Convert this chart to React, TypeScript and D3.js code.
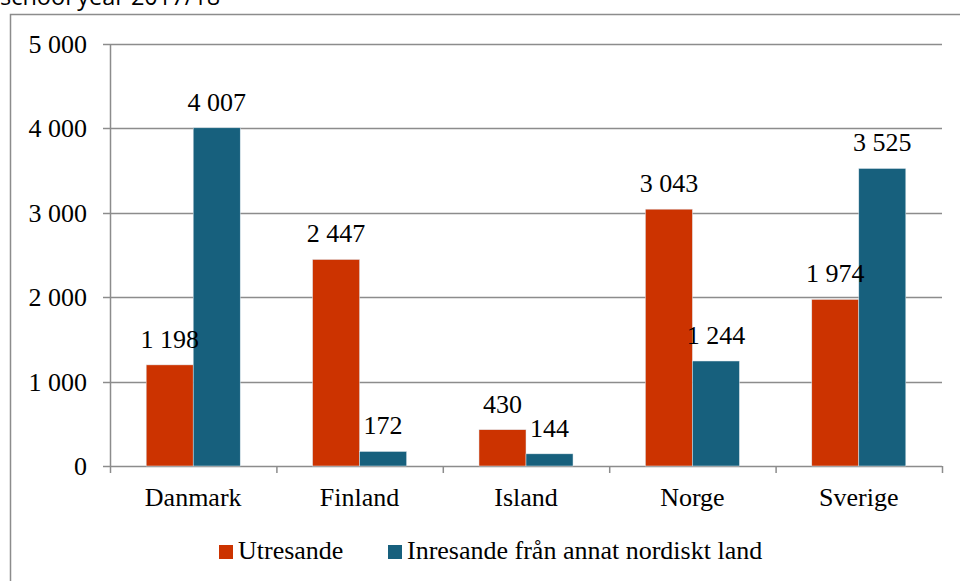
import React from 'react';
import * as d3 from 'd3';

const countries = ['Danmark', 'Finland', 'Island', 'Norge', 'Sverige'];
const seriesNames = ['Utresande', 'Inresande från annat nordiskt land'];
const utresande = [1198, 2447, 430, 3043, 1974];
const inresande = [4007, 172, 144, 1244, 3525];
const yTicks = [0, 1000, 2000, 3000, 4000, 5000];
const colors = ['#CC3300', '#17607D'];

const SERIF = 'Liberation Serif';
const FS = 26;
const GRID = '#8c8c8c';

const fmt = d3.formatLocale({ thousands: ' ', grouping: [3], decimal: ',', currency: ['', ''] }).format(',d');

const left = 110, right = 942, top = 44, bottom = 466;

const x0 = d3.scaleBand<string>().domain(countries).range([left, right])
  .paddingInner(0.435).paddingOuter(0.2175);
const x1 = d3.scaleBand<string>().domain(seriesNames).range([0, x0.bandwidth()]);
const y = d3.scaleLinear().domain([0, 5000]).range([bottom, top]);

const App = () => {
  const rows = countries.map((c, i) => ({ c, vals: [utresande[i], inresande[i]] }));
  const step = x0.step();
  const legendItems = [
    { name: seriesNames[0], x: 219 },
    { name: seriesNames[1], x: 388 },
  ];

  return (
    <svg width={960} height={581} style={{ position: 'absolute', left: 0, top: 0, background: 'white' }}>
      {/* clipped caption from the page above */}
      <text x={0} y={5} fontFamily="Open Sans" fontSize={23.5} fill="#000">school year 2017/18</text>

      {/* chart frame */}
      <rect x={10.5} y={14.5} width={1000} height={700} fill="white" stroke={GRID} strokeWidth={1.5} />

      {/* grid */}
      {yTicks.filter((t) => t > 0).map((t) => (
        <line key={t} x1={left} x2={right} y1={Math.round(y(t)) + 0.5} y2={Math.round(y(t)) + 0.5}
          stroke={GRID} strokeWidth={1.5} />
      ))}

      {/* y axis */}
      <line x1={left + 0.5} x2={left + 0.5} y1={top} y2={bottom + 0.5} stroke={GRID} strokeWidth={1.5} />
      {yTicks.map((t) => (
        <g key={t} transform={`translate(0,${Math.round(y(t)) + 0.5})`}>
          <line x1={left - 7} x2={left} stroke={GRID} strokeWidth={1.5} />
          <text x={87} dy="0.34em" textAnchor="end" fontFamily={SERIF} fontSize={FS} fill="#000">{fmt(t)}</text>
        </g>
      ))}

      {/* x axis */}
      <line x1={left} x2={right} y1={bottom + 0.5} y2={bottom + 0.5} stroke={GRID} strokeWidth={1.5} />
      {d3.range(countries.length + 1).map((i) => (
        <line key={i} x1={left + i * step + 0.5} x2={left + i * step + 0.5} y1={bottom} y2={bottom + 7}
          stroke={GRID} strokeWidth={1.5} />
      ))}
      {countries.map((c) => (
        <text key={c} x={(x0(c) as number) + x0.bandwidth() / 2} y={bottom + 40} textAnchor="middle"
          fontFamily={SERIF} fontSize={FS} fill="#000">{c}</text>
      ))}

      {/* bars and value labels */}
      {rows.map((r) => (
        <g key={r.c} transform={`translate(${x0(r.c)},0)`}>
          {r.vals.map((v, j) => (
            <rect key={j} x={x1(seriesNames[j]) as number} width={x1.bandwidth()} y={y(v)} height={bottom - y(v)}
              fill={colors[j]} stroke="#dfe8ee" strokeWidth={0.5} />
          ))}
          {r.vals.map((v, j) => (
            <text key={'t' + j} x={(x1(seriesNames[j]) as number) + x1.bandwidth() / 2} y={y(v) - 17}
              textAnchor="middle" fontFamily={SERIF} fontSize={FS} fill="#000">{fmt(v)}</text>
          ))}
        </g>
      ))}

      {/* legend */}
      {legendItems.map((it, i) => (
        <g key={it.name}>
          <rect x={it.x} y={545} width={14} height={14} fill={colors[i]} />
          <text x={it.x + 19} y={559} fontFamily={SERIF} fontSize={FS} fill="#000">{it.name}</text>
        </g>
      ))}
    </svg>
  );
};

export default App;
